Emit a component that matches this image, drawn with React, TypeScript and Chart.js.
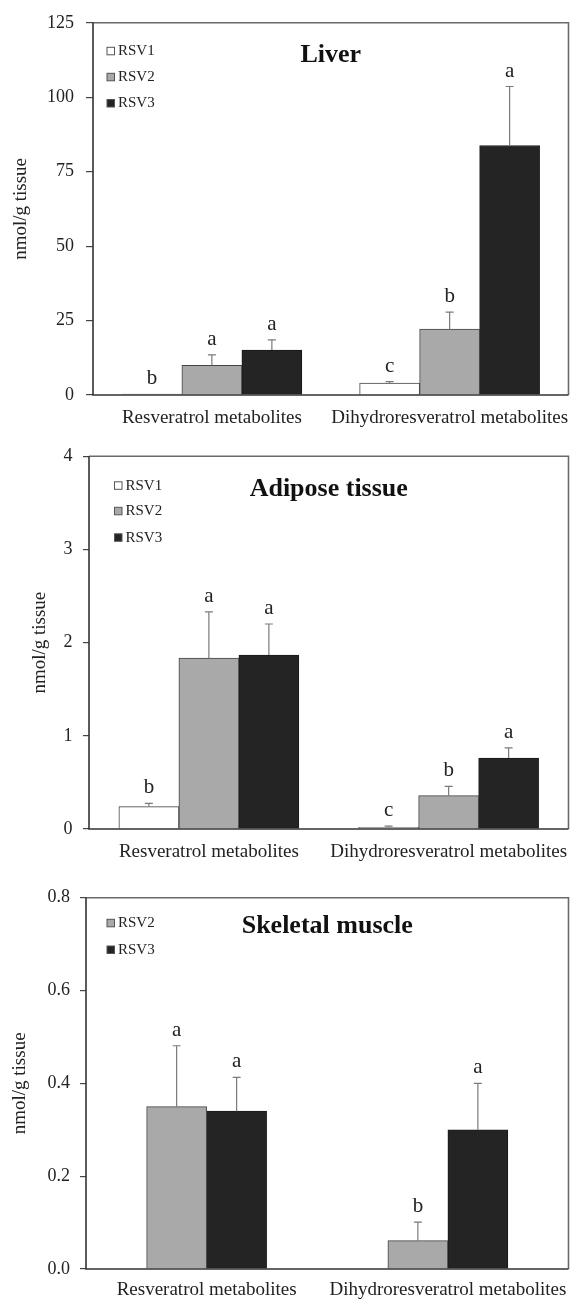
import React, { useEffect, useRef } from "react";
import { Chart, registerables } from "chart.js";

Chart.register(...registerables);

// ---------------- data ----------------
const categories = ["Resveratrol metabolites", "Dihydroresveratrol metabolites"];

const liverRSV1 = [0.3, 4.0];
const liverRSV1Err = [0, 0.5];
const liverRSV1Letters = ["b", "c"];
const liverRSV2 = [10.0, 22.1];
const liverRSV2Err = [3.5, 5.7];
const liverRSV2Letters = ["a", "b"];
const liverRSV3 = [15.1, 83.8];
const liverRSV3Err = [3.4, 19.8];
const liverRSV3Letters = ["a", "a"];
const liverTicksMax = 125;
const liverTicksStep = 25;

const adiposeRSV1 = [0.24, 0.018];
const adiposeRSV1Err = [0.035, 0.012];
const adiposeRSV1Letters = ["b", "c"];
const adiposeRSV2 = [1.835, 0.358];
const adiposeRSV2Err = [0.495, 0.1];
const adiposeRSV2Letters = ["a", "b"];
const adiposeRSV3 = [1.867, 0.762];
const adiposeRSV3Err = [0.333, 0.108];
const adiposeRSV3Letters = ["a", "a"];
const adiposeTicksMax = 4;
const adiposeTicksStep = 1;

const muscleRSV2 = [0.35, 0.061];
const muscleRSV2Err = [0.131, 0.04];
const muscleRSV2Letters = ["a", "b"];
const muscleRSV3 = [0.34, 0.3];
const muscleRSV3Err = [0.073, 0.1];
const muscleRSV3Letters = ["a", "a"];
const muscleTicksMax = 0.8;
const muscleTicksStep = 0.2;

const yAxisTitle = "nmol/g tissue";

// ---------------- styles ----------------
const FONT = "'Liberation Serif', 'Times New Roman', serif";
const FILL: Record<string, string> = { RSV1: "#ffffff", RSV2: "#a9a9a9", RSV3: "#242424" };

type Series = { name: string; values: number[]; errors: number[]; letters: string[] };
type Panel = {
  title: string;
  titleOffset: number;
  top: number;
  height: number;
  padTop: number;
  axisWidth: number;
  xAxisHeight: number;
  yMax: number;
  yStep: number;
  decimals: number;
  tickLen: number;
  tickPad: number;
  yTitlePad: number;
  xPad: number;
  legendX: number;
  legendRows: number[];
  series: Series[];
};

const panels: Panel[] = [
  {
    title: "Liver",
    titleOffset: 32.5,
    top: 0,
    height: 435,
    padTop: 22.3,
    axisWidth: 93,
    xAxisHeight: 40,
    yMax: liverTicksMax,
    yStep: liverTicksStep,
    decimals: 0,
    tickLen: 7,
    tickPad: 12,
    yTitlePad: 10,
    xPad: 11.6,
    legendX: 107,
    legendRows: [28.5, 54.5, 80.7],
    series: [
      { name: "RSV1", values: liverRSV1, errors: liverRSV1Err, letters: liverRSV1Letters },
      { name: "RSV2", values: liverRSV2, errors: liverRSV2Err, letters: liverRSV2Letters },
      { name: "RSV3", values: liverRSV3, errors: liverRSV3Err, letters: liverRSV3Letters },
    ],
  },
  {
    title: "Adipose tissue",
    titleOffset: 33,
    top: 435,
    height: 430,
    padTop: 21.3,
    axisWidth: 89,
    xAxisHeight: 36,
    yMax: adiposeTicksMax,
    yStep: adiposeTicksStep,
    decimals: 0,
    tickLen: 6,
    tickPad: 10.5,
    yTitlePad: 28.5,
    xPad: 11.3,
    legendX: 114.5,
    legendRows: [29.5, 55, 81.5],
    series: [
      { name: "RSV1", values: adiposeRSV1, errors: adiposeRSV1Err, letters: adiposeRSV1Letters },
      { name: "RSV2", values: adiposeRSV2, errors: adiposeRSV2Err, letters: adiposeRSV2Letters },
      { name: "RSV3", values: adiposeRSV3, errors: adiposeRSV3Err, letters: adiposeRSV3Letters },
    ],
  },
  {
    title: "Skeletal muscle",
    titleOffset: 28.4,
    top: 865,
    height: 435,
    padTop: 32.7,
    axisWidth: 86,
    xAxisHeight: 31,
    yMax: muscleTicksMax,
    yStep: muscleTicksStep,
    decimals: 1,
    tickLen: 6,
    tickPad: 10,
    yTitlePad: 9,
    xPad: 9.6,
    legendX: 107,
    legendRows: [25.6, 52.3],
    series: [
      { name: "RSV2", values: muscleRSV2, errors: muscleRSV2Err, letters: muscleRSV2Letters },
      { name: "RSV3", values: muscleRSV3, errors: muscleRSV3Err, letters: muscleRSV3Letters },
    ],
  },
];

function BarPanel({ p }: { p: Panel }) {
  const ref = useRef<HTMLCanvasElement | null>(null);

  useEffect(() => {
    if (!ref.current) return;

    const decor = {
      id: "decor",
      afterDatasetsDraw(chart: any) {
        const ctx = chart.ctx as CanvasRenderingContext2D;
        const ys = chart.scales.y;
        p.series.forEach((s, di) => {
          const meta = chart.getDatasetMeta(di);
          meta.data.forEach((bar: any, i: number) => {
            const x = bar.x;
            const v = s.values[i];
            const e = s.errors[i];
            const yTop = ys.getPixelForValue(v);
            const yErr = ys.getPixelForValue(v + e);
            ctx.save();
            if (e > 0) {
              ctx.strokeStyle = "#7a7a7a";
              ctx.lineWidth = 1.2;
              ctx.beginPath();
              ctx.moveTo(x, yTop);
              ctx.lineTo(x, yErr);
              ctx.moveTo(x - 4, yErr);
              ctx.lineTo(x + 4, yErr);
              ctx.stroke();
            }
            ctx.fillStyle = "#222";
            ctx.font = `21px ${FONT}`;
            ctx.textAlign = "center";
            ctx.textBaseline = "alphabetic";
            ctx.fillText(s.letters[i], x, yErr - 10);
            ctx.restore();
          });
        });
      },
      afterDraw(chart: any) {
        const ctx = chart.ctx as CanvasRenderingContext2D;
        const { left, right, top, bottom } = chart.chartArea;
        ctx.save();
        // frame
        ctx.lineWidth = 1.6;
        ctx.strokeStyle = "#6a6a6a";
        ctx.beginPath();
        ctx.moveTo(left, top);
        ctx.lineTo(right, top);
        ctx.lineTo(right, bottom);
        ctx.stroke();
        ctx.strokeStyle = "#333";
        ctx.beginPath();
        ctx.moveTo(left, top);
        ctx.lineTo(left, bottom);
        ctx.lineTo(right, bottom);
        ctx.stroke();
        // title
        ctx.fillStyle = "#111";
        ctx.font = `bold 26px ${FONT}`;
        ctx.textAlign = "center";
        ctx.textBaseline = "middle";
        ctx.fillText(p.title, (left + right) / 2, top + p.titleOffset);
        // legend
        ctx.font = `15px ${FONT}`;
        ctx.textAlign = "left";
        p.series.forEach((s, r) => {
          const y = top + p.legendRows[r];
          ctx.fillStyle = FILL[s.name];
          ctx.fillRect(p.legendX, y - 4, 7.5, 7.5);
          ctx.strokeStyle = "#555";
          ctx.lineWidth = 1;
          ctx.strokeRect(p.legendX, y - 4, 7.5, 7.5);
          ctx.fillStyle = "#222";
          ctx.fillText(s.name, p.legendX + 11, y);
        });
        ctx.restore();
      },
    };

    const chart = new Chart(ref.current, {
      type: "bar",
      data: {
        labels: categories,
        datasets: p.series.map((s) => ({
          label: s.name,
          data: s.values,
          backgroundColor: FILL[s.name],
          borderColor: s.name === "RSV3" ? "#1a1a1a" : "#444",
          borderWidth: 1,
          barThickness: 60,
        })),
      },
      options: {
        animation: false,
        responsive: true,
        maintainAspectRatio: false,
        layout: { autoPadding: false, padding: { top: p.padTop, right: 1.5, bottom: 0, left: 0 } },
        plugins: {
          legend: { display: false },
          tooltip: { enabled: false },
          title: { display: false },
        },
        scales: {
          x: {
            grid: { display: false, drawTicks: true, tickLength: p.xPad },
            border: { display: false },
            ticks: {
              font: { family: FONT, size: 19 },
              color: "#222",
              padding: 0,
              maxRotation: 0,
              minRotation: 0,
              autoSkip: false,
            },
            afterFit: (scale: any) => {
              scale.height = p.xAxisHeight;
              scale.paddingLeft = 0;
              scale.paddingRight = 0;
            },
          },
          y: {
            min: 0,
            max: p.yMax,
            grid: {
              drawOnChartArea: false,
              drawTicks: true,
              tickLength: p.tickLen,
              color: "#444",
              lineWidth: 1.2,
            },
            border: { display: false },
            ticks: {
              stepSize: p.yStep,
              font: { family: FONT, size: 18 },
              color: "#222",
              padding: p.tickPad,
              callback: (v: any) => Number(v).toFixed(p.decimals),
            },
            title: {
              display: true,
              text: yAxisTitle,
              font: { family: FONT, size: 19 },
              color: "#222",
              padding: { top: p.yTitlePad, bottom: 0 },
            },
            afterFit: (scale: any) => {
              scale.width = p.axisWidth;
            },
          },
        },
      },
      plugins: [decor],
    });

    return () => chart.destroy();
  }, [p]);

  return (
    <div style={{ position: "absolute", left: 0, top: p.top, width: 570, height: p.height }}>
      <canvas ref={ref} />
    </div>
  );
}

export default function App() {
  return (
    <div style={{ position: "absolute", left: 0, top: 0, width: 570, height: 1300, background: "#fff" }}>
      {panels.map((p) => (
        <BarPanel key={p.title} p={p} />
      ))}
    </div>
  );
}
